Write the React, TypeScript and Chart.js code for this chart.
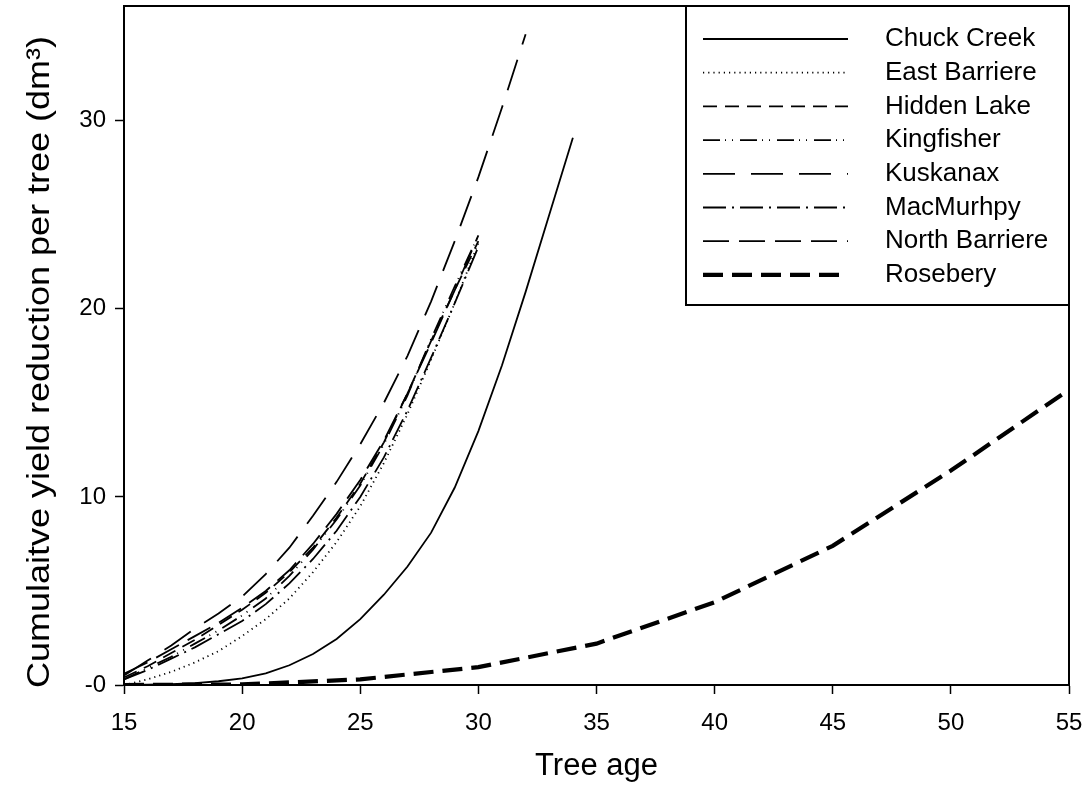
import { useEffect, useRef } from "react";
import { Chart, registerables } from "chart.js";

Chart.register(...registerables);

const FONT = "'Liberation Sans', Arial, Helvetica, sans-serif";

// Tree ages (years) at which each site curve is evaluated
const agesTo30 = [15, 16, 17, 18, 19, 20, 21, 22, 23, 24, 25, 26, 27, 28, 29, 30];
const agesTo32 = [15, 16, 17, 18, 19, 20, 21, 22, 23, 24, 25, 26, 27, 28, 29, 30, 31, 32];
const agesTo34 = [15, 16, 17, 18, 19, 20, 21, 22, 23, 24, 25, 26, 27, 28, 29, 30, 31, 32, 33, 34];
const roseberyAges = [15, 20, 25, 30, 35, 40, 45, 50, 55];

// Cumulative yield reduction per tree (dm3)
const chuckCreek = [0.0, 0.02, 0.05, 0.1, 0.2, 0.35, 0.62, 1.05, 1.65, 2.45, 3.5, 4.8, 6.3, 8.1, 10.5, 13.5, 17.0, 20.9, 25.0, 29.1];
const eastBarriere = [0.0, 0.3, 0.7, 1.2, 1.8, 2.6, 3.5, 4.6, 6.0, 7.6, 9.5, 11.8, 14.4, 17.3, 20.3, 23.5];
const hiddenLake = [0.4, 1.0, 1.7, 2.4, 3.2, 4.0, 4.9, 6.0, 7.3, 8.9, 10.7, 12.9, 15.5, 18.3, 21.0, 23.6];
const kingfisher = [0.3, 0.9, 1.5, 2.2, 2.9, 3.7, 4.6, 5.8, 7.2, 8.8, 10.6, 12.8, 15.4, 18.4, 21.2, 23.9];
const kuskanax = [0.5, 1.3, 2.1, 3.0, 3.8, 4.7, 5.9, 7.3, 9.0, 10.8, 12.8, 15.0, 17.5, 20.4, 23.6, 27.0, 30.7, 34.6];
const macMurhpy = [0.3, 0.8, 1.4, 2.0, 2.7, 3.4, 4.3, 5.4, 6.7, 8.2, 10.0, 12.1, 14.6, 17.4, 20.3, 23.3];
const northBarriere = [0.6, 1.2, 1.9, 2.6, 3.3, 4.1, 5.0, 6.1, 7.5, 9.1, 10.9, 13.0, 15.5, 18.2, 21.0, 23.9];
const rosebery = [0.0, 0.03, 0.3, 0.95, 2.2, 4.4, 7.4, 11.4, 15.7];

const xTicks = [15, 20, 25, 30, 35, 40, 45, 50, 55];
const yTicks = [0, 10, 20, 30];
const yTickLabels = ["-0", "10", "20", "30"];

const xTitle = "Tree age";
const yTitle = "Cumulaitve yield reduction per tree (dm³)";

const toPoints = (ages: number[], values: number[]) =>
  ages.map((a, i) => ({ x: a, y: values[i] }));

// Draws the closed plot frame, the boxed key in the top-right corner and the rotated y title
const frameAndKey = {
  id: "frameAndKey",
  afterDraw(chart: any) {
    const { ctx, chartArea: a } = chart;
    ctx.save();
    ctx.strokeStyle = "#000";
    ctx.lineWidth = 2;
    ctx.setLineDash([]);
    ctx.strokeRect(a.left, a.top, a.right - a.left, a.bottom - a.top);

    const boxLeft = a.right - 383;
    const boxBottom = a.top + 299;
    ctx.strokeRect(boxLeft, a.top, a.right - boxLeft, boxBottom - a.top);

    chart.data.datasets.forEach((ds: any, i: number) => {
      const y = a.top + 33 + i * 33.7;
      ctx.beginPath();
      ctx.lineWidth = ds.borderWidth;
      ctx.lineCap = "butt";
      ctx.setLineDash(ds.borderDash || []);
      ctx.moveTo(boxLeft + 17, y);
      ctx.lineTo(boxLeft + 162, y);
      ctx.stroke();
      ctx.setLineDash([]);
      ctx.fillStyle = "#000";
      ctx.font = `26px ${FONT}`;
      ctx.textAlign = "left";
      ctx.textBaseline = "middle";
      ctx.fillText(ds.label, boxLeft + 199, y);
    });

    ctx.translate(40, 362);
    ctx.rotate(-Math.PI / 2);
    ctx.font = `32px ${FONT}`;
    const w = ctx.measureText(yTitle).width;
    ctx.scale(652 / w, 1);
    ctx.textAlign = "center";
    ctx.textBaseline = "middle";
    ctx.fillStyle = "#000";
    ctx.fillText(yTitle, 0, 0);
    ctx.restore();
  },
};

const line = (label: string, ages: number[], values: number[], dash: number[], width = 1.8) => ({
  label,
  data: toPoints(ages, values),
  borderColor: "#000",
  backgroundColor: "#000",
  borderWidth: width,
  borderDash: dash,
  borderCapStyle: "butt",
  pointRadius: 0,
  pointHoverRadius: 0,
  tension: 0,
  fill: false,
});

const noScalePadding = (s: any) => {
  s.paddingTop = 0;
  s.paddingBottom = 0;
  s.paddingLeft = 0;
  s.paddingRight = 0;
};

export default function App() {
  const canvasRef = useRef<HTMLCanvasElement | null>(null);

  useEffect(() => {
    if (!canvasRef.current) return;
    const chart = new Chart(canvasRef.current, {
      type: "line",
      data: {
        datasets: [
          line("Chuck Creek", agesTo34, chuckCreek, []),
          line("East Barriere", agesTo30, eastBarriere, [1.2, 4]),
          line("Hidden Lake", agesTo30, hiddenLake, [14, 8]),
          line("Kingfisher", agesTo30, kingfisher, [17, 5, 1, 6, 1, 7]),
          line("Kuskanax", agesTo32, kuskanax, [32, 16]),
          line("MacMurhpy", agesTo30, macMurhpy, [23, 6, 2, 6]),
          line("North Barriere", agesTo30, northBarriere, [26, 10]),
          line("Rosebery", roseberyAges, rosebery, [20, 9], 4.2),
        ] as any,
      },
      options: {
        animation: false,
        responsive: false,
        layout: { padding: { top: 6, right: 21, left: 0, bottom: 0 } },
        plugins: { legend: { display: false }, tooltip: { enabled: false } },
        events: [],
        scales: {
          x: {
            type: "linear",
            position: "bottom",
            min: 15,
            max: 55,
            afterFit: (s: any) => {
              s.height = 118;
              noScalePadding(s);
            },
            afterBuildTicks: (s: any) => {
              s.ticks = xTicks.map((v) => ({ value: v }));
            },
            grid: { drawOnChartArea: false, drawTicks: true, tickLength: 9, color: "#000", tickWidth: 1.5 },
            border: { display: true, color: "#000", width: 2 },
            ticks: {
              color: "#000",
              font: { family: FONT, size: 24 },
              padding: 15,
              maxRotation: 0,
              autoSkip: false,
            },
            title: {
              display: true,
              text: xTitle,
              color: "#000",
              font: { family: FONT, size: 31 },
              padding: { top: 0, bottom: 18 },
            },
          },
          y: {
            type: "linear",
            position: "left",
            min: 0,
            max: 36.1,
            afterFit: (s: any) => {
              s.width = 124;
              noScalePadding(s);
            },
            afterBuildTicks: (s: any) => {
              s.ticks = yTicks.map((v) => ({ value: v }));
            },
            grid: { drawOnChartArea: false, drawTicks: true, tickLength: 9, color: "#000", tickWidth: 1.5 },
            border: { display: true, color: "#000", width: 2 },
            ticks: {
              color: "#000",
              font: { family: FONT, size: 24 },
              padding: 9,
              callback: (v: any) => yTickLabels[yTicks.indexOf(Number(v))] ?? String(v),
            },
          },
        },
      },
      plugins: [frameAndKey],
    } as any);
    return () => chart.destroy();
  }, []);

  return (
    <div style={{ position: "absolute", left: 0, top: 0, width: 1090, height: 803, background: "#fff" }}>
      <canvas ref={canvasRef} width={1090} height={803} style={{ display: "block" }} />
    </div>
  );
}
